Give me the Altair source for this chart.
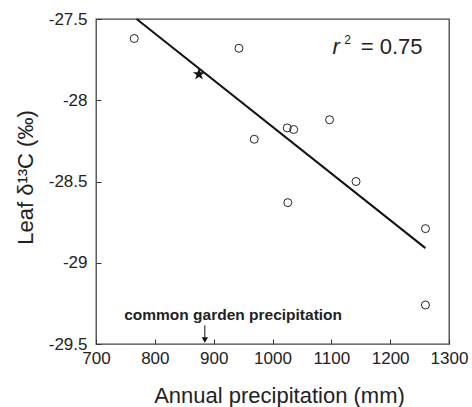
import altair as alt
import pandas as pd

# Observed sites (open circles)
precip = [765, 943, 969, 1025, 1036, 1097, 1142, 1026, 1260, 1260]
d13c = [-27.62, -27.68, -28.24, -28.17, -28.18, -28.12, -28.50, -28.63, -28.79, -29.26]

# Common garden (star)
star_precip = [875]
star_d13c = [-27.84]

# Regression line endpoints
line_precip = [769, 1260]
line_d13c = [-27.50, -28.91]

# Axis ticks
x_ticks = [700, 800, 900, 1000, 1100, 1200, 1300]
y_ticks = [-29.5, -29.0, -28.5, -28.0, -27.5]

# Annotation positions (data space)
arrow_x = [885]
arrow_top = [-29.385]
arrow_bot = [-29.46]
arrow_tip = [-29.475]
note_x = [933]
note_y = [-29.352]
note_text = ["common garden precipitation"]

FONT = "Liberation Sans"

pts = pd.DataFrame({"p": precip, "d": d13c})
stars = pd.DataFrame({"p": star_precip, "d": star_d13c})
line = pd.DataFrame({"p": line_precip, "d": line_d13c})
arrow = pd.DataFrame({"p": arrow_x, "top": arrow_top, "bot": arrow_bot, "tip": arrow_tip})
note = pd.DataFrame({"p": note_x, "d": note_y, "t": note_text})

xs = alt.Scale(domain=[700, 1300], nice=False, zero=False)
ys = alt.Scale(domain=[-29.5, -27.5], nice=False, zero=False)

xaxis = alt.Axis(values=x_ticks, title="Annual precipitation (mm)", offset=-5, tickSize=5,
                 domain=False, grid=False, labelPadding=6, labelFontSize=17, titleFontSize=22,
                 titleFontWeight="normal", titleBaseline="alphabetic", titleY=63, titleX=183,
                 labelFlush=False, labelExpr="'' + datum.value")
yaxis = alt.Axis(values=y_ticks, title="Leaf δ¹³C (‰)", offset=-5, tickSize=5, domain=False,
                 grid=False, labelPadding=9, labelFontSize=17, titleFontSize=22,
                 titleFontWeight="normal", labelExpr="'' + datum.value",
                 titleBaseline="alphabetic", titleX=-69, titleY=158, labelFlush=False)

base_x = alt.X("p:Q", scale=xs, axis=xaxis)
base_y = alt.Y("d:Q", scale=ys, axis=yaxis)

circles = alt.Chart(pts).mark_point(shape="circle", size=64, filled=False, stroke="#222",
                                    strokeWidth=1, opacity=1).encode(x=base_x, y=base_y)

STAR = "M0,-1 L0.2245,-0.309 L0.9511,-0.309 L0.3633,0.118 L0.5878,0.809 L0,0.382 L-0.5878,0.809 L-0.3633,0.118 L-0.9511,-0.309 L-0.2245,-0.309 Z"
star = alt.Chart(stars).mark_point(shape=STAR, size=170, filled=True, fill="#111",
                                   strokeWidth=0, opacity=1).encode(x="p:Q", y="d:Q")

reg = alt.Chart(line).mark_line(color="#111", strokeWidth=2).encode(x="p:Q", y="d:Q")

arrow_rule = alt.Chart(arrow).mark_rule(color="#111", strokeWidth=1).encode(
    x="p:Q", y="top:Q", y2="bot:Q")
arrow_head = alt.Chart(arrow).mark_point(shape="triangle-down", size=40, filled=True,
                                         fill="#111", strokeWidth=0, opacity=1).encode(
    x="p:Q", y="tip:Q")

note_txt = alt.Chart(note).mark_text(font=FONT, fontSize=15.5, fontWeight="bold", color="#222",
                                     align="center", baseline="alphabetic").encode(
    x="p:Q", y="d:Q", text="t:N")

r_df = pd.DataFrame({"p": [1102], "d": [-27.715], "t": ["r"]})
sup_df = pd.DataFrame({"p": [1122], "d": [-27.655], "t": ["2"]})
eq_df = pd.DataFrame({"p": [1150], "d": [-27.715], "t": ["= 0.75"]})

r_txt = alt.Chart(r_df).mark_text(font=FONT, fontSize=22, fontStyle="italic", color="#222",
                                  align="left", baseline="alphabetic").encode(x="p:Q", y="d:Q", text="t:N")
sup_txt = alt.Chart(sup_df).mark_text(font=FONT, fontSize=12, color="#222",
                                      align="left", baseline="alphabetic").encode(x="p:Q", y="d:Q", text="t:N")
eq_txt = alt.Chart(eq_df).mark_text(font=FONT, fontSize=22, color="#222",
                                    align="left", baseline="alphabetic").encode(x="p:Q", y="d:Q", text="t:N")

chart = alt.layer(circles, reg, star, arrow_rule, arrow_head, note_txt, r_txt, sup_txt, eq_txt).properties(
    width=353, height=325,
    autosize=alt.AutoSizeParams(type="none"),
    padding={"left": 96, "top": 19, "right": 23, "bottom": 63},
    background="white",
).configure_view(stroke="#444", strokeWidth=1.3).configure_axis(
    labelFont=FONT, titleFont=FONT, labelColor="#222", titleColor="#222",
    tickColor="#333", tickWidth=1,
)

chart.save("out.html", embed_options={"renderer": "svg", "actions": False})
